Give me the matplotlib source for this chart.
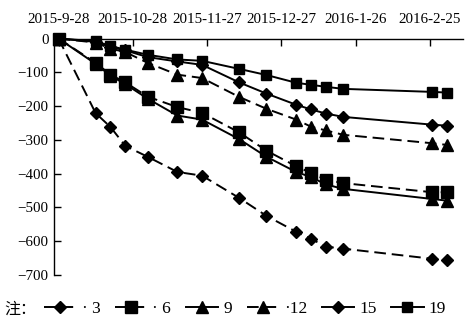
import matplotlib
matplotlib.use("Agg")
import matplotlib.pyplot as plt
from datetime import datetime, timedelta

plt.rcParams['font.family'] = ['Liberation Serif', 'DejaVu Serif']
plt.rcParams['axes.unicode_minus'] = True

# 观测日期
dates = ["2015-9-28", "2015-10-13", "2015-10-19", "2015-10-25", "2015-11-3",
         "2015-11-15", "2015-11-25", "2015-12-10", "2015-12-21", "2016-1-2",
         "2016-1-8", "2016-1-14", "2016-1-21", "2016-2-26", "2016-3-3"]

# 各系列数值
s3 = [0, -221, -262, -318, -350, -395, -406, -472, -525, -572, -593, -616, -622, -652, -655]
s6 = [0, -72, -107, -130, -172, -203, -220, -278, -332, -378, -398, -418, -428, -455, -455]
s9 = [0, -75, -110, -135, -178, -228, -240, -298, -350, -395, -410, -432, -445, -475, -480]
s12 = [0, -12, -30, -40, -72, -107, -117, -173, -208, -240, -261, -272, -285, -310, -315]
s15 = [0, -10, -25, -35, -55, -68, -78, -130, -163, -196, -210, -222, -232, -255, -258]
s19 = [0, -8, -22, -33, -48, -62, -66, -90, -108, -131, -137, -143, -149, -158, -160]

tick_labels = ["2015-9-28", "2015-10-28", "2015-11-27", "2015-12-27", "2016-1-26", "2016-2-25"]
y_ticks = [0, -100, -200, -300, -400, -500, -600, -700]

x = [datetime.strptime(d, "%Y-%m-%d") for d in dates]
xt = [datetime.strptime(d, "%Y-%m-%d") for d in tick_labels]

fig = plt.figure(figsize=(4.66, 3.21), dpi=100)
ax = fig.add_axes([0.116, 0.1433, 0.8776, 0.7367])

dash = (0, (6, 3))
lw = 1.4
ax.plot(x, s3, linestyle=dash, color='black', lw=lw, marker='D', ms=6.5, label='· 3', clip_on=False)
ax.plot(x, s6, linestyle=dash, color='black', lw=lw, marker='s', ms=8, label='· 6', clip_on=False)
ax.plot(x, s9, linestyle='-', color='black', lw=lw, marker='^', ms=9, label='9', clip_on=False)
ax.plot(x, s12, linestyle=dash, color='black', lw=lw, marker='^', ms=9, label='·12', clip_on=False)
ax.plot(x, s15, linestyle='-', color='black', lw=lw, marker='D', ms=6.5, label='15', clip_on=False)
ax.plot(x, s19, linestyle='-', color='black', lw=lw, marker='s', ms=7, label='19', clip_on=False)

ax.set_xlim(xt[0] - timedelta(days=1.8), xt[0] + timedelta(days=163.4))
ax.set_ylim(-700, 0)

ax.xaxis.tick_top()
ax.set_xticks(xt)
ax.set_xticklabels(tick_labels, fontsize=10.8)
ax.set_yticks(y_ticks)
ax.set_yticklabels([("\u2212" + str(-v)) if v < 0 else "0" for v in y_ticks], fontsize=10.8)
ax.tick_params(axis='x', direction='in', length=5, width=1, pad=9)
ax.tick_params(axis='y', direction='in', length=5, width=1, pad=4)

ax.spines['bottom'].set_visible(False)
ax.spines['right'].set_visible(False)
ax.spines['top'].set_linewidth(1)
ax.spines['left'].set_linewidth(1)

fig.text(0.01, 0.037, "注：", fontsize=11.5, va='center',
         family=['Noto Sans CJK SC', 'DejaVu Sans'])
fig.legend(loc='center left', bbox_to_anchor=(0.095, 0.037), ncol=6, frameon=False,
           fontsize=12.5, handlelength=1.85, handletextpad=0.3, columnspacing=0.85,
           borderaxespad=0, borderpad=0)

fig.savefig("out.png", dpi=100)
